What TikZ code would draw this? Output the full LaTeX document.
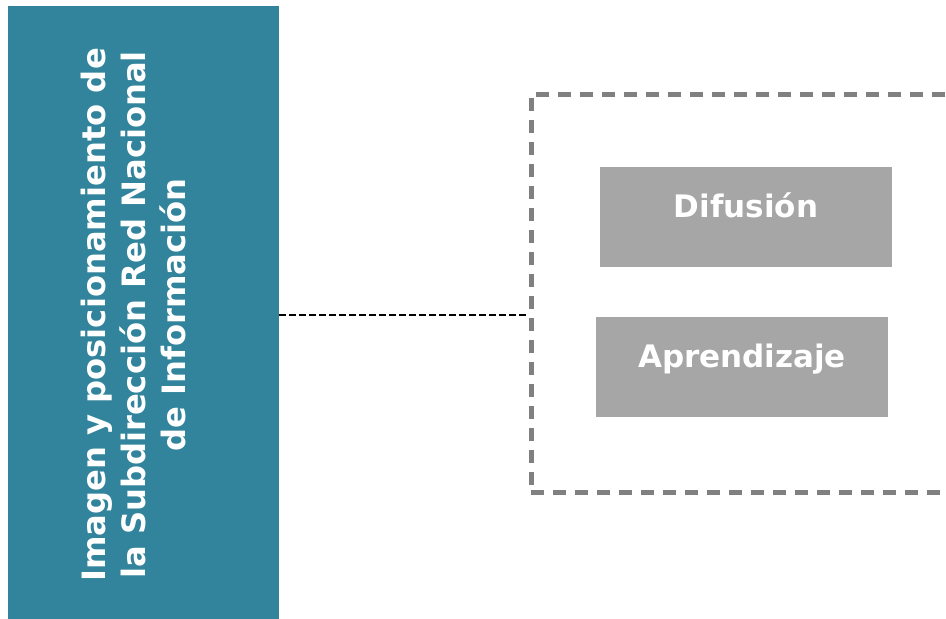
\documentclass[tikz,border=0pt]{standalone}
\usepackage{fontspec}
\setmainfont{DejaVu Sans}
\usetikzlibrary{positioning}

\definecolor{tealazul}{HTML}{31849B}
\definecolor{grisclaro}{HTML}{A6A6A6}
\definecolor{grisborde}{HTML}{808080}

\tikzset{
	temabox/.style={fill=tealazul, draw=none, minimum width=271pt, minimum height=618pt, inner sep=0pt},
	grupobox/.style={draw=grisborde, line width=5pt, dash pattern=on 13pt off 9pt, minimum width=470pt, minimum height=398pt, inner sep=0pt},
	itembox/.style={fill=grisclaro, draw=none, minimum width=292pt, minimum height=100pt, inner sep=0pt,
		text=white, font=\fontsize{31}{40}\selectfont\bfseries, text height=23pt, text depth=23pt},
	conector/.style={black, line width=1.5pt, dash pattern=on 7pt off 3pt},
}

\begin{document}
\begin{tikzpicture}[x=1pt, y=-1pt]

	\useasboundingbox (0,0) rectangle (946,619);
	\clip (0,0) rectangle (946,619);

	\node[temabox] (tema) at (143.5,315) {};
	\node[rotate=90, align=center, inner sep=0pt, text=white, font=\fontsize{32.2}{40}\selectfont\bfseries] (tematxt) at (133.5,315)
		{Imagen y posicionamiento de\\ la Subdirección Red Nacional\\ de Información};

	\node[grupobox] (grupo) at (766,293) {};
	\node[itembox] (difusion) at (746,217) {Difusión};
	\node[itembox] (aprendizaje) at (742,367) {Aprendizaje};

	\draw[conector] (tema.east) -- (tema.east -| grupo.west);

\end{tikzpicture}
\end{document}
